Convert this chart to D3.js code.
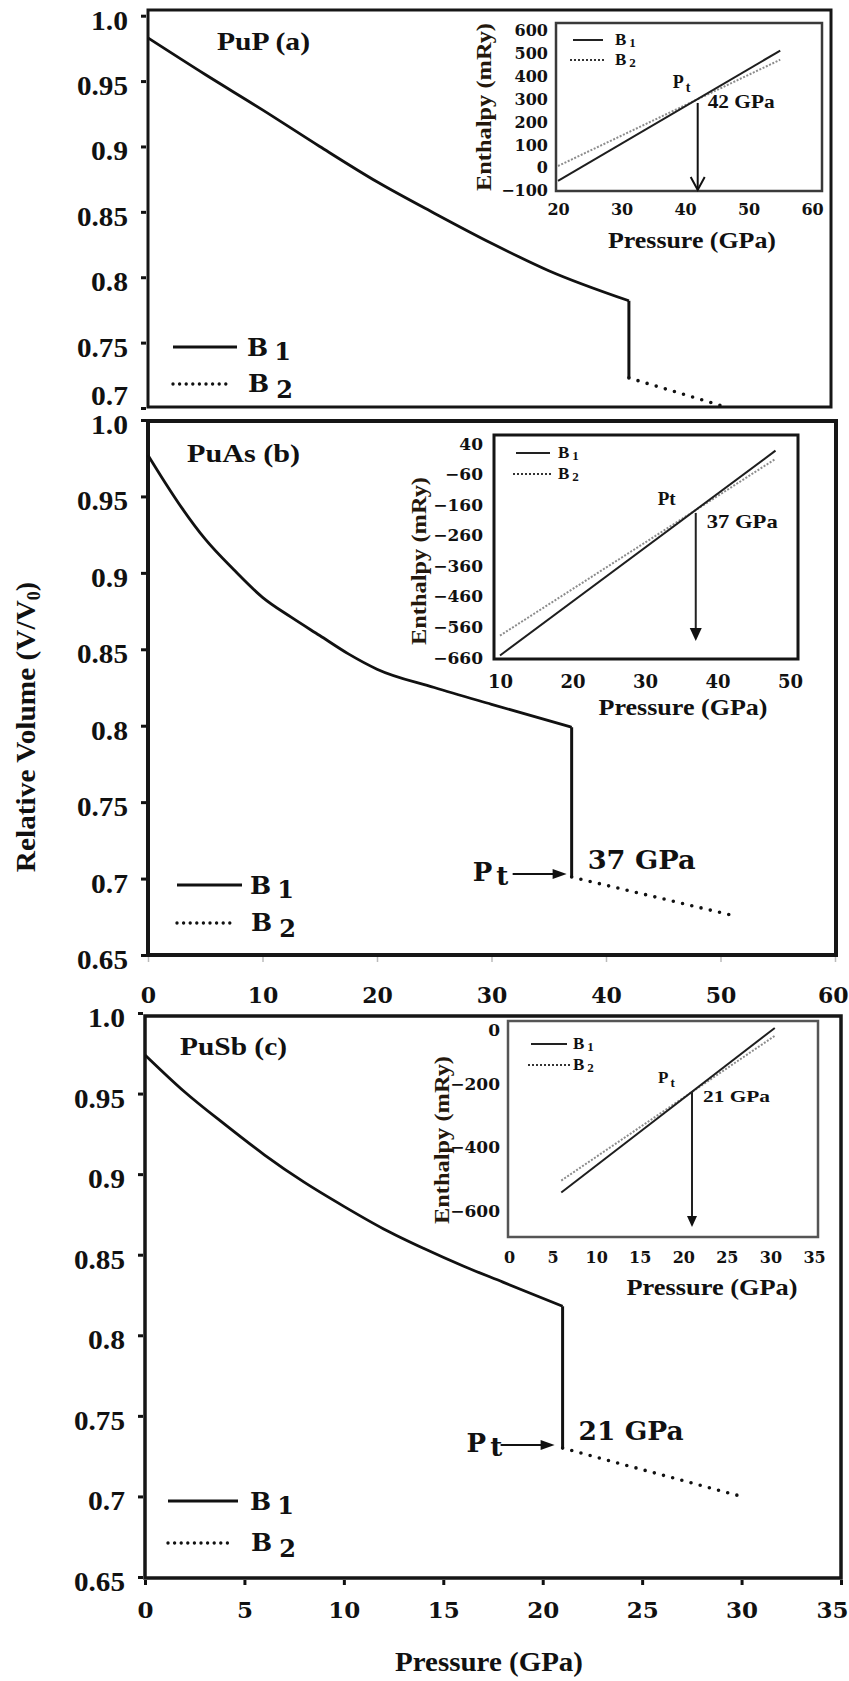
<!DOCTYPE html>
<html>
<head>
<meta charset="utf-8">
<title>Relative volume and enthalpy of PuP, PuAs and PuSb under pressure</title>
<script src="https://cdn.jsdelivr.net/npm/d3@7"></script>
<style>
  html, body { margin: 0; padding: 0; background: #fff; }
  svg { display: block; }
  text { font-family: var(--serif, "DejaVu Serif"), serif; font-weight: bold; fill: #111; }
  .wide { font-family: "DejaVu Serif", serif; }
  .title { font-size: 26px; }
  .leg { font-size: 25px; }
  .ann { font-size: 26px; }
  .axtitle { font-size: 28px; }
  .ititle { font-size: 22px; fill: #24180c; }
  .ixtitle { font-size: 24px; }
  .ileg { font-size: 17px; }
</style>
</head>
<body>
<svg id="fig" width="849" height="1681"></svg>
<script>
// ---------- relative volume V/V0 against pressure (GPa) ----------
const pupB1P = [0, 5, 10, 15, 20, 25, 30, 35, 42];
const pupB1V = [0.983, 0.955, 0.928, 0.900, 0.873, 0.849, 0.826, 0.805, 0.782];
const pupB2P = [42, 50];
const pupB2V = [0.723, 0.702];

const puasB1P = [0, 1.5, 3, 5, 7.5, 10, 12.5, 15, 17.5, 20, 25, 30, 37];
const puasB1V = [0.977, 0.959, 0.942, 0.922, 0.902, 0.884, 0.871, 0.859, 0.847, 0.837, 0.825, 0.814, 0.799];
const puasB2P = [37, 51];
const puasB2V = [0.701, 0.676];

const pusbB1P = [0, 2, 4, 6, 8, 10, 12, 14, 16, 18, 21];
const pusbB1V = [0.974, 0.951, 0.931, 0.912, 0.895, 0.880, 0.866, 0.854, 0.843, 0.833, 0.818];
const pusbB2P = [21, 30];
const pusbB2V = [0.730, 0.700];

const compounds = ["PuP (a)", "PuAs (b)", "PuSb (c)"];
const transitionP = [42, 37, 21];
const phaseLabels = ["B1", "B2"];

const volTicksA = [0.7, 0.75, 0.8, 0.85, 0.9, 0.95, 1.0];
const volTicksBC = [0.65, 0.7, 0.75, 0.8, 0.85, 0.9, 0.95, 1.0];
const presTicksB = [0, 10, 20, 30, 40, 50, 60];
const presTicksC = [0, 5, 10, 15, 20, 25, 30, 35];

// ---------- inset: enthalpy (mRy) against pressure (GPa) ----------
const hPupP = [20, 55];
const hPupB1 = [-60, 510];
const hPupB2 = [5, 470];
const hPuasP = [10, 48];
const hPuasB1 = [-655, 15];
const hPuasB2 = [-590, -12];
const hPusbP = [6, 30.5];
const hPusbB1 = [-545, -25];
const hPusbB2 = [-507, -50];

const hTicksA = [-100, 0, 100, 200, 300, 400, 500, 600];
const hTicksB = [-660, -560, -460, -360, -260, -160, -60, 40];
const hTicksC = [-600, -400, -200, 0];
const pTicksInsetA = [20, 30, 40, 50, 60];
const pTicksInsetB = [10, 20, 30, 40, 50];
const pTicksInsetC = [0, 5, 10, 15, 20, 25, 30, 35];

// pick the first Times-like face that is actually installed
function pickSerif(cands) {
  const ctx = document.createElement("canvas").getContext("2d");
  const probe = "Relative Volume 0.95 WMmil";
  const width = f => { ctx.font = "bold 40px " + f; return ctx.measureText(probe).width; };
  for (const f of cands) {
    const w = `"${f}"`;
    if (width(`${w}, monospace`) !== width("monospace") || width(`${w}, sans-serif`) !== width("sans-serif")) return f;
  }
  return "DejaVu Serif";
}
const serifFace = pickSerif(["Liberation Serif", "Tinos", "Times New Roman", "Times", "Nimbus Roman", "Nimbus Roman No9 L", "FreeSerif", "Noto Serif"]);
document.documentElement.style.setProperty("--serif", `"${serifFace}"`);
const timesLike = serifFace !== "DejaVu Serif" && serifFace !== "Noto Serif";
const volTickSize = timesLike ? 27 : 24;

const INK = "#111";
const W = 849;
const svg = d3.select("#fig");
const fmtVol = v => (v === 1 ? "1.0" : String(v));
const labelWidth = s => [...s].reduce((a, ch) => a + (ch === "." ? 9 : 14), 0);

function phaseText(parent, x, y, label, cls, subSize, dx, dy) {
  const t = parent.append("text").attr("class", cls).attr("x", x).attr("y", y);
  t.append("tspan").text(label[0]);
  t.append("tspan").style("font-size", subSize + "px").attr("dx", dx).attr("dy", dy).text(label.slice(1));
  return t;
}

function drawMain(p) {
  const g = svg.append("g");
  const x = d3.scaleLinear().domain(p.xDomain).range(p.xRange);
  const y = d3.scaleLinear().domain(p.yDomain).range(p.yRange);
  const [fx0, fy0, fx1, fy1] = p.frame;

  g.append("rect")
    .attr("x", fx0).attr("y", fy0).attr("width", fx1 - fx0).attr("height", fy1 - fy0)
    .attr("fill", "none").attr("stroke", "#161616").attr("stroke-width", p.frameW);

  // volume axis
  const ya = g.append("g").attr("transform", `translate(${fx0},0)`)
    .call(d3.axisLeft(y).tickValues(p.yTicks).tickFormat(fmtVol).tickSizeInner(5).tickSizeOuter(0).tickPadding(14));
  ya.attr("font-family", null).attr("font-size", null);
  ya.select(".domain").remove();
  ya.selectAll(".tick line").attr("stroke", INK).attr("stroke-width", 3).attr("x1", -2).attr("x2", -7);
  ya.selectAll(".tick text").style("font-size", volTickSize + "px").attr("x", -20).attr("dy", "0.5em")
    .attr("textLength", d => labelWidth(fmtVol(d))).attr("lengthAdjust", "spacingAndGlyphs")
    .attr("transform", d => (d === p.yDomain[0] && p.liftBottom ? `translate(0,${-p.liftBottom})` : null));

  // pressure axis
  if (p.xTicks) {
    const last = p.xTicks[p.xTicks.length - 1];
    const xa = g.append("g").attr("transform", `translate(0,${fy1})`)
      .call(d3.axisBottom(x).tickValues(p.xTicks).tickSizeInner(p.xTickLen).tickSizeOuter(0));
    xa.attr("font-family", null).attr("font-size", null);
    xa.select(".domain").remove();
    xa.selectAll(".tick line").attr("stroke", p.xTickColor).attr("stroke-width", p.xTickW).attr("y1", 2);
    xa.selectAll(".tick text").attr("class", "wide").style("font-size", p.xTickSize + "px")
      .attr("y", p.xLabBase - fy1).attr("dy", null)
      .attr("text-anchor", d => (d === last ? "end" : "middle"))
      .attr("x", d => (d === last ? W - 1 - x(d) : 0));
  }

  const smooth = d3.line().x(d => x(d[0])).y(d => y(d[1])).curve(d3.curveMonotoneX);
  const straight = d3.line().x(d => x(d[0])).y(d => y(d[1]));
  const b1 = d3.zip(p.B1P, p.B1V);
  const b2 = d3.zip(p.B2P, p.B2V);

  g.append("path").attr("d", smooth(b1)).attr("fill", "none").attr("stroke", INK).attr("stroke-width", 2.8);
  // volume collapse at the transition pressure
  g.append("path").attr("d", straight([[p.Pt, p.B1V[p.B1V.length - 1]], [p.Pt, p.B2V[0]]]))
    .attr("fill", "none").attr("stroke", INK).attr("stroke-width", 3);
  g.append("path").attr("d", straight(b2)).attr("fill", "none").attr("stroke", INK)
    .attr("stroke-width", 3.6).attr("stroke-linecap", "round").attr("stroke-dasharray", "0,9.5");

  g.append("text").attr("class", "title").attr("x", p.title[0]).attr("y", p.title[1])
    .attr("textLength", p.title[2]).attr("lengthAdjust", "spacingAndGlyphs").text(p.name);

  // legend
  const [lx0, lx1, sy, dy, tx] = p.legend;
  g.append("line").attr("x1", lx0).attr("x2", lx1).attr("y1", sy).attr("y2", sy)
    .attr("stroke", INK).attr("stroke-width", 3);
  g.append("line").attr("x1", lx0).attr("x2", lx1 - 6).attr("y1", dy).attr("y2", dy)
    .attr("stroke", INK).attr("stroke-width", 3.4).attr("stroke-linecap", "round").attr("stroke-dasharray", "0,6.6");
  phaseText(g, tx, sy + 9, phaseLabels[0], "wide leg", 24, 6, 4);
  phaseText(g, tx + 1, dy + 8, phaseLabels[1], "wide leg", 24, 7, 6);

  // transition pressure marker
  if (p.note) {
    const tipX = x(p.Pt) - p.note.gap, tipY = y(p.B2V[0]) - 3;
    g.append("line").attr("x1", tipX - 54).attr("x2", tipX - 10).attr("y1", tipY).attr("y2", tipY)
      .attr("stroke", INK).attr("stroke-width", 2);
    g.append("path").attr("d", `M${tipX},${tipY}L${tipX - 14},${tipY - 5}L${tipX - 14},${tipY + 5}Z`).attr("fill", INK);
    const pt = g.append("text").attr("class", "wide ann").attr("x", tipX - p.note.pOff).attr("y", tipY + 7);
    pt.append("tspan").text("P");
    pt.append("tspan").attr("dx", 4).attr("dy", 4).text("t");
    g.append("text").attr("class", "wide ann").attr("x", x(p.Pt) + 16).attr("y", tipY - 5)
      .attr("textLength", p.note.len).attr("lengthAdjust", "spacingAndGlyphs").text(`${p.Pt} GPa`);
  }
}

function drawInset(s) {
  const g = svg.append("g");
  const x = d3.scaleLinear().domain(s.xDomain).range(s.xRange);
  const y = d3.scaleLinear().domain(s.yDomain).range(s.yRange);
  const [bx0, by0, bx1, by1] = s.box;

  g.append("rect").attr("x", bx0).attr("y", by0).attr("width", bx1 - bx0).attr("height", by1 - by0)
    .attr("fill", "#fff").attr("stroke", s.boxColor).attr("stroke-width", s.boxW);

  const ya = g.append("g").attr("transform", `translate(${bx0},0)`)
    .call(d3.axisLeft(y).tickValues(s.yTicks).tickSize(0).tickPadding(bx0 - s.yLabRight));
  ya.attr("font-family", null).attr("font-size", null);
  ya.select(".domain").remove();
  ya.selectAll(".tick text").attr("class", "wide").style("font-size", s.yTickSize + "px").attr("dy", "0.36em")
    .attr("transform", d => (y(d) < by0 + 4 && s.dropTop ? `translate(0,${s.dropTop})` : null));

  const xa = g.append("g").attr("transform", `translate(0,${by1})`)
    .call(d3.axisBottom(x).tickValues(s.xTicks).tickSize(0));
  xa.attr("font-family", null).attr("font-size", null);
  xa.select(".domain").remove();
  xa.selectAll(".tick text").attr("class", "wide").style("font-size", s.xTickSize + "px")
    .attr("y", s.xLabBase - by1).attr("dy", null);

  const ln = d3.line().x(d => x(d[0])).y(d => y(d[1]));
  g.append("path").attr("d", ln(d3.zip(s.P, s.B2))).attr("fill", "none")
    .attr("stroke", "#8c8c8c").attr("stroke-width", 2).attr("stroke-dasharray", "2,1.6");
  g.append("path").attr("d", ln(d3.zip(s.P, s.B1))).attr("fill", "none")
    .attr("stroke", "#1e1e1e").attr("stroke-width", 2);

  // crossing of the two enthalpy lines
  const ix = x(s.Pt);
  const iy = y(d3.scaleLinear().domain(s.P).range(s.B1)(s.Pt));
  const end = s.arrow.end;
  if (s.arrow.open) {
    g.append("line").attr("x1", ix).attr("x2", ix).attr("y1", iy + s.arrow.gap).attr("y2", end)
      .attr("stroke", INK).attr("stroke-width", 2);
    g.append("path").attr("d", `M${ix - 7},${end - 13}L${ix},${end}L${ix + 7},${end - 13}`)
      .attr("fill", "none").attr("stroke", INK).attr("stroke-width", 2);
  } else {
    const hw = s.arrow.hw, hl = s.arrow.hl;
    g.append("line").attr("x1", ix).attr("x2", ix).attr("y1", iy + s.arrow.gap).attr("y2", end - hl + 2)
      .attr("stroke", "#222").attr("stroke-width", 2);
    g.append("path").attr("d", `M${ix - hw},${end - hl}L${ix + hw},${end - hl}L${ix},${end}Z`).attr("fill", INK);
  }

  const pt = g.append("text").attr("x", ix + s.ptPos[0]).attr("y", iy + s.ptPos[1]).style("font-size", s.annSize + "px");
  pt.append("tspan").text("P");
  if (s.ptSub) pt.append("tspan").style("font-size", (s.annSize - 4) + "px").attr("dx", 2).attr("dy", 4).text("t");
  else pt.append("tspan").text("t");
  g.append("text").attr("x", ix + s.gpaPos[0]).attr("y", iy + s.gpaPos[1]).style("font-size", s.annSize + "px")
    .attr("textLength", s.gpaLen).attr("lengthAdjust", "spacingAndGlyphs").text(`${s.Pt} GPa`);

  // legend
  const [lx0, lx1, sy, dy, tx] = s.legend;
  g.append("line").attr("x1", lx0 + 3).attr("x2", lx1).attr("y1", sy).attr("y2", sy)
    .attr("stroke", "#222").attr("stroke-width", 2);
  g.append("line").attr("x1", lx0).attr("x2", lx1 + 3).attr("y1", dy).attr("y2", dy)
    .attr("stroke", "#333").attr("stroke-width", 2).attr("stroke-dasharray", "2,2");
  phaseText(g, tx, sy + 5, phaseLabels[0], "ileg", 13, 3, 2);
  phaseText(g, tx, dy + 5, phaseLabels[1], "ileg", 13, 3, 2);

  // axis titles
  g.append("text").attr("class", "ititle").attr("text-anchor", "middle")
    .attr("transform", `translate(${s.yTitle[0]},${s.yTitle[1]}) rotate(-90)`)
    .attr("textLength", s.yTitle[2]).attr("lengthAdjust", "spacingAndGlyphs").text("Enthalpy (mRy)");
  g.append("text").attr("class", "ixtitle").attr("text-anchor", "middle")
    .attr("x", s.xTitle[0]).attr("y", s.xTitle[1])
    .attr("textLength", s.xTitle[2]).attr("lengthAdjust", "spacingAndGlyphs").text("Pressure (GPa)");
}

// ---------- main panels ----------
drawMain({
  name: compounds[0], B1P: pupB1P, B1V: pupB1V, B2P: pupB2P, B2V: pupB2V, Pt: transitionP[0],
  xDomain: [0, 60], xRange: [148, 835], yDomain: [0.7, 1.0], yRange: [408, 15.7],
  frame: [148, 10, 831, 407], frameW: 3, yTicks: volTicksA, liftBottom: 17, xTicks: null,
  title: [217, 50, 93], legend: [173, 237, 347, 384, 247]
});
drawMain({
  name: compounds[1], B1P: puasB1P, B1V: puasB1V, B2P: puasB2P, B2V: puasB2V, Pt: transitionP[1],
  xDomain: [0, 60], xRange: [148, 835], yDomain: [0.65, 1.0], yRange: [955, 420],
  frame: [148, 421, 836, 955], frameW: 4, yTicks: volTicksBC,
  xTicks: presTicksB, xTickLen: 7, xTickColor: "#bbb", xTickW: 1.5, xTickSize: 22, xLabBase: 1003,
  title: [187, 462, 113], legend: [177, 242, 885, 923, 250],
  note: { gap: 5, pOff: 94, len: 108 }
});
drawMain({
  name: compounds[2], B1P: pusbB1P, B1V: pusbB1V, B2P: pusbB2P, B2V: pusbB2V, Pt: transitionP[2],
  xDomain: [0, 35], xRange: [145, 841], yDomain: [0.65, 1.0], yRange: [1577, 1013],
  frame: [145, 1016, 841, 1578], frameW: 3.5, yTicks: volTicksBC,
  xTicks: presTicksC, xTickLen: 7, xTickColor: INK, xTickW: 3, xTickSize: 23, xLabBase: 1618,
  title: [180, 1055, 107], legend: [168, 238, 1501, 1543, 250],
  note: { gap: 8, pOff: 88, len: 105 }
});

// shared axis titles
const yt = svg.append("text").attr("class", "axtitle").attr("text-anchor", "middle")
  .attr("transform", "translate(35,727) rotate(-90)");
yt.append("tspan").attr("textLength", 272).attr("lengthAdjust", "spacingAndGlyphs").text("Relative Volume (V/V");
yt.append("tspan").style("font-size", "18px").attr("dy", 5).text("0");
yt.append("tspan").attr("dy", -5).text(")");

svg.append("text").attr("class", "axtitle").attr("text-anchor", "middle").attr("x", 489).attr("y", 1671)
  .attr("textLength", 188).attr("lengthAdjust", "spacingAndGlyphs").text("Pressure (GPa)");

// ---------- insets ----------
drawInset({
  P: hPupP, B1: hPupB1, B2: hPupB2, Pt: transitionP[0],
  xDomain: [20, 60], xRange: [558, 812], yDomain: [-100, 600], yRange: [190, 30],
  box: [556, 23, 822, 191], boxColor: "#3a3a3a", boxW: 2.5,
  yTicks: hTicksA, yLabRight: 548, yTickSize: 16, xTicks: pTicksInsetA, xTickSize: 16, xLabBase: 215,
  arrow: { open: true, gap: 4, end: 190 },
  annSize: 18, ptSub: true, ptPos: [-25, -11], gpaPos: [10, 9], gpaLen: 67,
  legend: [570, 603, 40, 60, 615], yTitle: [491, 107, 168], xTitle: [692, 248, 168]
});
drawInset({
  P: hPuasP, B1: hPuasB1, B2: hPuasB2, Pt: transitionP[1],
  xDomain: [10, 50], xRange: [500, 790], yDomain: [-660, 40], yRange: [657, 443],
  box: [494, 435, 798, 659], boxColor: "#151515", boxW: 3,
  yTicks: hTicksB, yLabRight: 483, yTickSize: 17, xTicks: pTicksInsetB, xTickSize: 18, xLabBase: 688,
  arrow: { open: false, gap: 3, end: 641, hw: 6, hl: 13 },
  annSize: 19, ptSub: false, ptPos: [-38, -5], gpaPos: [11, 18], gpaLen: 71,
  legend: [513, 550, 453, 474, 558], yTitle: [426, 561, 168], xTitle: [683, 715, 169]
});
drawInset({
  P: hPusbP, B1: hPusbB1, B2: hPusbB2, Pt: transitionP[2],
  xDomain: [0, 35], xRange: [509, 814], yDomain: [-600, 0], yRange: [1210, 1020],
  box: [508, 1021, 818, 1237], boxColor: "#555", boxW: 2.5, dropTop: 9,
  yTicks: hTicksC, yLabRight: 500, yTickSize: 17, xTicks: pTicksInsetC, xTickSize: 16, xLabBase: 1263,
  arrow: { open: false, gap: 0, end: 1227, hw: 5, hl: 11 },
  annSize: 17, ptSub: true, ptPos: [-34, -9], gpaPos: [11, 10], gpaLen: 67,
  legend: [528, 567, 1044, 1065, 573], yTitle: [449, 1140, 168], xTitle: [712, 1295, 171]
});
</script>
</body>
</html>
